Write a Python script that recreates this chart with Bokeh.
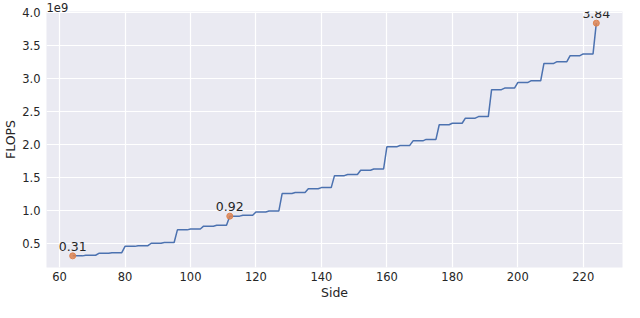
from bokeh.plotting import figure
from bokeh.models import ColumnDataSource, LabelSet, Range1d, FixedTicker, PrintfTickFormatter
from bokeh.core.properties import value
from bokeh.embed import file_html
from bokeh.resources import INLINE

# Input side length (levels start at these sides)
sides = [64, 68, 72, 76, 80, 84, 88, 92, 96, 100, 104, 108, 112, 116, 120, 124,
         128, 132, 136, 140, 144, 148, 152, 156, 160, 164, 168, 172, 176, 180,
         184, 188, 192, 196, 200, 204, 208, 212, 216, 220, 224]
# FLOPS in units of 1e9
flops_g = [0.314, 0.323, 0.352, 0.362, 0.458, 0.468, 0.505, 0.516, 0.708, 0.721,
           0.764, 0.777, 0.916, 0.930, 0.980, 0.995, 1.259, 1.275, 1.332, 1.349,
           1.530, 1.548, 1.612, 1.631, 1.967, 1.988, 2.058, 2.079, 2.302, 2.324,
           2.402, 2.425, 2.833, 2.857, 2.941, 2.967, 3.231, 3.258, 3.349, 3.376,
           3.842]
marked_sides = [64, 112, 224]
x_ticks = [60, 80, 100, 120, 140, 160, 180, 200, 220]
y_ticks = [0.5, 1.0, 1.5, 2.0, 2.5, 3.0, 3.5, 4.0]

xs, ys = [], []
for i, (s, v) in enumerate(zip(sides, flops_g)):
    xs.append(s)
    ys.append(v)
    if i < len(sides) - 1:
        xs.append(sides[i + 1] - 1)
        ys.append(v)

mx = marked_sides
my = [flops_g[sides.index(s)] for s in marked_sides]
mlab = [f"{v:.2f}" for v in my]

FONT = "DejaVu Sans"
TXT = "#262626"

xmin, xmax = min(sides), max(sides)
ymin, ymax = min(flops_g), max(flops_g)
xpad = (xmax - xmin) * 0.05
ypad = (ymax - ymin) * 0.05

p = figure(width=624, height=302, output_backend="svg", toolbar_location=None,
           x_range=Range1d(xmin - xpad, xmax + xpad),
           y_range=Range1d(ymin - ypad, ymax + ypad),
           min_border_top=0, min_border_right=2, min_border_left=0, min_border_bottom=0)
p.background_fill_color = "#EAEAF2"
p.border_fill_color = "white"
p.outline_line_color = None

for g in (p.xgrid, p.ygrid):
    g.grid_line_color = "white"
    g.grid_line_width = 1.2

p.xaxis.ticker = FixedTicker(ticks=x_ticks)
p.yaxis.ticker = FixedTicker(ticks=y_ticks)
p.yaxis.formatter = PrintfTickFormatter(format="%.1f")

for ax in (p.xaxis, p.yaxis):
    ax.axis_line_color = None
    ax.major_tick_line_color = None
    ax.minor_tick_line_color = None
    ax.major_tick_out = 0
    ax.major_tick_in = 0
    ax.major_label_text_font = FONT
    ax.major_label_text_font_size = "11.5px"
    ax.major_label_text_color = TXT
    ax.axis_label_text_font = FONT
    ax.axis_label_text_font_size = "12.5px"
    ax.axis_label_text_font_style = "normal"
    ax.axis_label_text_color = TXT

p.xaxis.axis_label = "Side"
p.yaxis.axis_label = "FLOPS"
p.xaxis.major_label_standoff = 4
p.yaxis.major_label_standoff = 6
p.xaxis.axis_label_standoff = 1
p.yaxis.axis_label_standoff = 1

p.line(xs, ys, line_color="#4C72B0", line_width=1.5)
p.scatter(mx, my, size=6, fill_color="#DD8452", line_color="#DD8452", fill_alpha=0.85)

src = ColumnDataSource(dict(x=mx, y=my, t=mlab))
p.add_layout(LabelSet(x="x", y="y", text="t", source=src, text_align="center",
                      text_baseline="bottom", y_offset=5, text_font=value(FONT),
                      text_font_size=value("12.5px"), text_color=value(TXT)))

p.title.text = "1e9"
p.title.align = "left"
p.title.text_font = FONT
p.title.text_font_size = "11.5px"
p.title.text_font_style = "normal"
p.title.text_color = TXT
p.title.standoff = 0

open("out.html", "w").write(file_html(p, INLINE))
